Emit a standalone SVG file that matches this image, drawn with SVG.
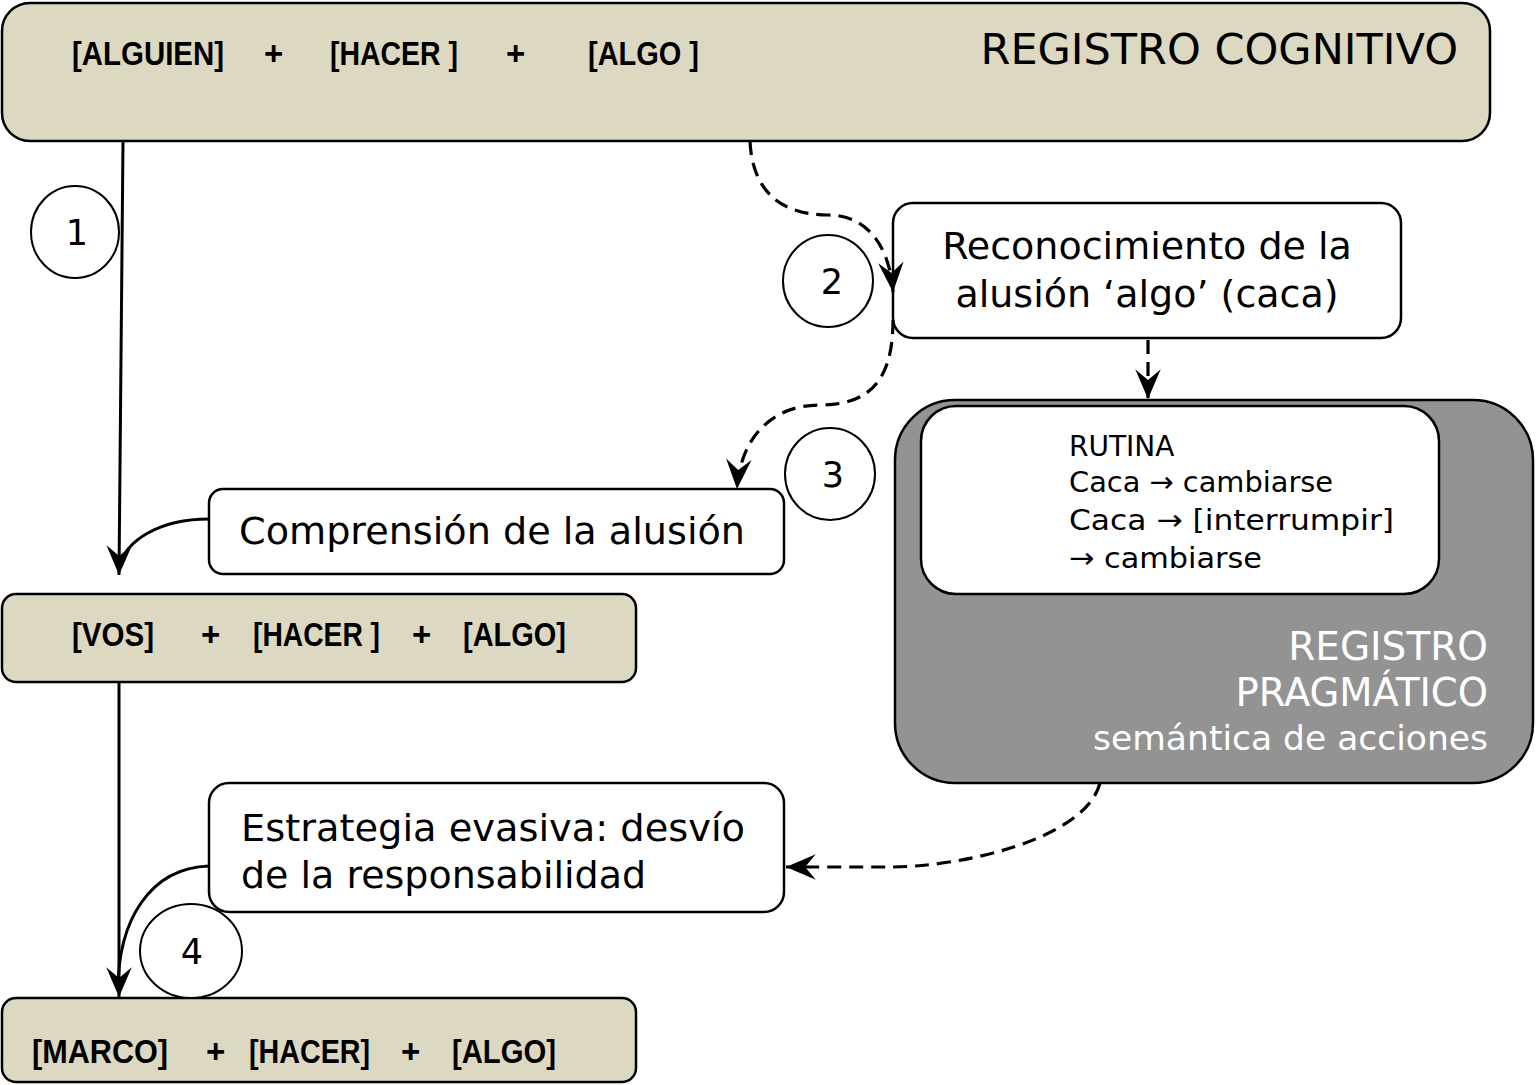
<svg xmlns="http://www.w3.org/2000/svg" width="1536" height="1085" viewBox="0 0 1536 1085">
<defs>
<style>
.tan{fill:#ddd8c2;stroke:#000;stroke-width:2.5}
.wbox{fill:#fff;stroke:#000;stroke-width:2.5}
.gbox{fill:#939393;stroke:#000;stroke-width:2.5}
.circ{fill:#fff;stroke:#000;stroke-width:2}
.b{font-family:"Liberation Sans",Arial,sans-serif;font-weight:bold;font-size:33px;fill:#000}
.r{font-family:"DejaVu Sans",Verdana,sans-serif;fill:#000}
.num{font-family:"DejaVu Sans",Verdana,sans-serif;font-size:35px;fill:#000;text-anchor:middle}
.solid{fill:none;stroke:#000;stroke-width:3}
.dash{fill:none;stroke:#000;stroke-width:3.2;stroke-dasharray:14 8}
</style>
<marker id="ah" markerUnits="userSpaceOnUse" markerWidth="34" markerHeight="34" viewBox="-30 -15 32 30" refX="0" refY="0" orient="auto">
<path d="M0,0 L-28,-12 L-18,0 L-28,12 Z" fill="#000"/>
</marker>
</defs>

<g id="registro-cognitivo">
<rect class="tan" x="2" y="3" width="1488" height="138" rx="28"/>
<text class="b" x="72" y="65" textLength="152" lengthAdjust="spacingAndGlyphs">[ALGUIEN]</text>
<text class="b" x="264" y="65">+</text>
<text class="b" x="330" y="65" textLength="128" lengthAdjust="spacingAndGlyphs">[HACER ]</text>
<text class="b" x="506" y="65">+</text>
<text class="b" x="588" y="65" textLength="111" lengthAdjust="spacingAndGlyphs">[ALGO ]</text>
<text class="r" x="1458" y="64" font-size="43" text-anchor="end">REGISTRO COGNITIVO</text>
</g>

<g id="reconocimiento">
<rect class="wbox" x="893" y="203" width="508" height="135" rx="20"/>
<text class="r" x="1147" y="259" font-size="38" text-anchor="middle">Reconocimiento de la</text>
<text class="r" x="1147" y="307" font-size="38" text-anchor="middle">alusión ‘algo’ (caca)</text>
</g>

<g id="registro-pragmatico">
<rect class="gbox" x="895" y="400" width="638" height="383" rx="60"/>
<rect class="wbox" x="921" y="406" width="518" height="188" rx="35"/>
<text class="r" x="1069" y="456" font-size="28">RUTINA</text>
<text class="r" x="1069" y="492" font-size="29" textLength="264" lengthAdjust="spacingAndGlyphs">Caca → cambiarse</text>
<text class="r" x="1069" y="530" font-size="29" textLength="325" lengthAdjust="spacingAndGlyphs">Caca → [interrumpir]</text>
<text class="r" x="1069" y="568" font-size="29" textLength="193" lengthAdjust="spacingAndGlyphs">→ cambiarse</text>
<text class="r" x="1488" y="660" font-size="39" text-anchor="end" style="fill:#fff">REGISTRO</text>
<text class="r" x="1488" y="706" font-size="38.5" text-anchor="end" style="fill:#fff">PRAGMÁTICO</text>
<text class="r" x="1488" y="750" font-size="34.5" text-anchor="end" style="fill:#fff">semántica de acciones</text>
</g>

<g id="comprension">
<rect class="wbox" x="209" y="489" width="575" height="85" rx="14"/>
<text class="r" x="239" y="544" font-size="38" textLength="506" lengthAdjust="spacingAndGlyphs">Comprensión de la alusión</text>
</g>

<g id="vos">
<rect class="tan" x="2" y="594" width="634" height="88" rx="14"/>
<text class="b" x="72" y="646" textLength="82" lengthAdjust="spacingAndGlyphs">[VOS]</text>
<text class="b" x="201" y="646">+</text>
<text class="b" x="253" y="646" textLength="127" lengthAdjust="spacingAndGlyphs">[HACER ]</text>
<text class="b" x="412" y="646">+</text>
<text class="b" x="463" y="646" textLength="103" lengthAdjust="spacingAndGlyphs">[ALGO]</text>
</g>

<g id="estrategia">
<rect class="wbox" x="209" y="783" width="575" height="129" rx="20"/>
<text class="r" x="241" y="841" font-size="38" textLength="504" lengthAdjust="spacingAndGlyphs">Estrategia evasiva: desvío</text>
<text class="r" x="241" y="888" font-size="38" textLength="405" lengthAdjust="spacingAndGlyphs">de la responsabilidad</text>
</g>

<g id="marco">
<rect class="tan" x="2" y="998" width="634" height="84" rx="14"/>
<text class="b" x="32" y="1063" textLength="136" lengthAdjust="spacingAndGlyphs">[MARCO]</text>
<text class="b" x="206" y="1063">+</text>
<text class="b" x="249" y="1063" textLength="121" lengthAdjust="spacingAndGlyphs">[HACER]</text>
<text class="b" x="401" y="1063">+</text>
<text class="b" x="452" y="1063" textLength="104" lengthAdjust="spacingAndGlyphs">[ALGO]</text>
</g>

<g id="connectors">
<path class="solid" d="M123,141 L119,575" marker-end="url(#ah)"/>
<path class="solid" d="M209,519 C160,519 125,540 119,568"/>
<path class="solid" d="M119,682 L119,997" marker-end="url(#ah)"/>
<path class="solid" d="M209,866 C150,868 118,920 118,990"/>
<path class="dash" d="M750,141 C752,190 780,215 828,215 C870,215 890,250 893,292" marker-end="url(#ah)"/>
<path class="dash" d="M1148,340 L1148,399" marker-end="url(#ah)"/>
<path class="dash" d="M893,320 C893,380 870,405 820,405 C770,405 740,440 737,489" marker-end="url(#ah)"/>
<path class="dash" d="M1100,783 C1085,840 960,867 890,867 L786,867" marker-end="url(#ah)"/>
</g>

<g id="step-1">
<ellipse class="circ" cx="75" cy="232" rx="44" ry="46"/>
<text class="num" x="77" y="245">1</text>
</g>
<g id="step-2">
<ellipse class="circ" cx="828" cy="281" rx="45" ry="46"/>
<text class="num" x="832" y="294">2</text>
</g>
<g id="step-3">
<ellipse class="circ" cx="830" cy="474" rx="45" ry="46"/>
<text class="num" x="833" y="487">3</text>
</g>
<g id="step-4">
<ellipse class="circ" cx="191" cy="951" rx="51" ry="47"/>
<text class="num" x="192" y="964">4</text>
</g>
</svg>
